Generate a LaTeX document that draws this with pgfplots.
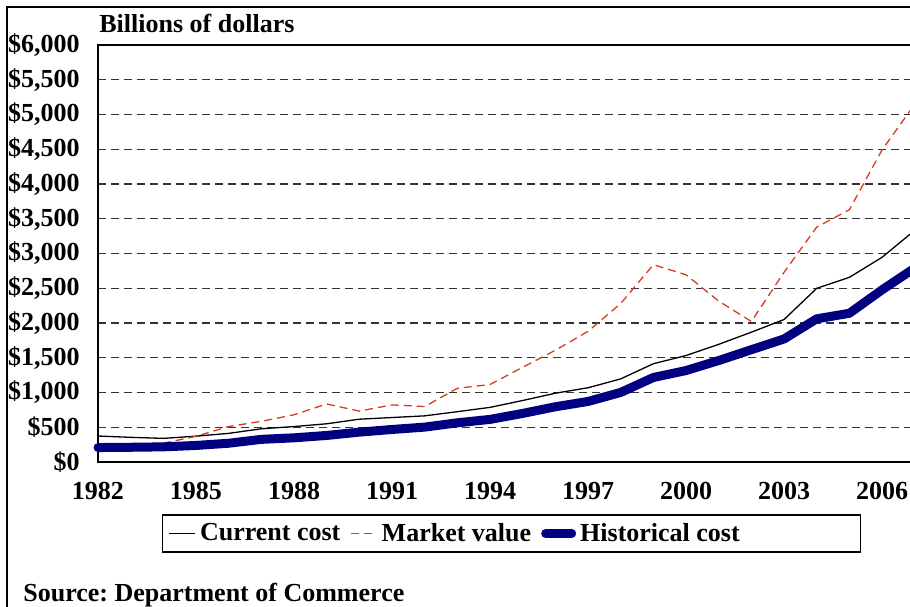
\documentclass[border=0pt]{standalone}
\usepackage{fontspec}
\setmainfont{Liberation Serif}
\usepackage{pgfplots}
\pgfplotsset{compat=1.18}
\definecolor{navyb}{RGB}{0,0,128}
\definecolor{mred}{RGB}{214,60,30}
\newcommand{\lbl}{\fontsize{13}{15}\selectfont\bfseries}
\frenchspacing
\begin{document}
\begin{tikzpicture}
\useasboundingbox (0,0) rectangle (455pt,303pt);
\draw[line width=0.6pt] (3.5pt,-5pt) -- (3.5pt,299.5pt) -- (470pt,299.5pt);
\begin{axis}[
  at={(49pt,72pt)}, anchor=south west,
  scale only axis, width=408.35pt, height=208.5pt,
  xmin=1982, xmax=2007, ymin=0, ymax=6000,
  clip=false,
  axis line style={line width=0.7pt},
  major tick length=0pt,
  tick style={draw=none},
  xtick={1982,1985,...,2006},
  ytick={0,500,...,6000},
  scaled y ticks=false,
  ymajorgrids,
  grid style={black!80, line width=0.55pt, dash pattern=on 4pt off 2.5pt},
  tick label style={font=\lbl, /pgf/number format/assume math mode=true},
  xticklabel style={/pgf/number format/1000 sep={}, anchor=north, inner sep=0pt, yshift=-10pt},
  yticklabel={\$\pgfmathprintnumber[fixed,1000 sep={,}]{\tick}},
  yticklabel style={anchor=east, inner sep=0pt, xshift=-9pt},
  legend columns=3,
  legend style={at={(0.5063,-0.1715)}, anchor=center, draw=black, line width=0.6pt,
    font=\lbl, inner xsep=3pt, inner ysep=2pt,
    /tikz/every even column/.append style={column sep=3pt}},
  legend image code/.code={\draw[#1] (0pt,0pt) -- (13pt,0pt);},
]
\addplot[black, line width=0.65pt] coordinates {
(1982,374) (1983,355) (1984,340) (1985,372) (1986,412) (1987,478) (1988,510)
(1989,550) (1990,616) (1991,640) (1992,664) (1993,724) (1994,786) (1995,885)
(1996,990) (1997,1068) (1998,1196) (1999,1414) (2000,1532) (2001,1693)
(2002,1868) (2003,2050) (2004,2499) (2005,2657) (2006,2945) (2007,3333)};
\addlegendentry{Current cost}
\addplot[mred, line width=0.65pt, dash pattern=on 4pt off 2.5pt] coordinates {
(1982,220) (1983,250) (1984,270) (1985,370) (1986,510) (1987,585) (1988,680)
(1989,835) (1990,732) (1991,822) (1992,798) (1993,1061) (1994,1115) (1995,1363)
(1996,1608) (1997,1880) (1998,2280) (1999,2839) (2000,2694) (2001,2315)
(2002,2022) (2003,2729) (2004,3380) (2005,3630) (2006,4490) (2007,5148)};
\addlegendentry{Market value}
\addplot[navyb, line width=4.5pt, line cap=round, line join=round] coordinates {
(1982,208) (1983,212) (1984,218) (1985,238) (1986,270) (1987,326) (1988,348)
(1989,382) (1990,430) (1991,468) (1992,502) (1993,564) (1994,613) (1995,699)
(1996,795) (1997,871) (1998,1001) (1999,1216) (2000,1316) (2001,1460)
(2002,1616) (2003,1770) (2004,2060) (2005,2140) (2006,2477) (2007,2791)};
\addlegendentry{\makebox[135pt][l]{Historical cost}}
\end{axis}
\node[anchor=base west, inner sep=0pt, font=\lbl] at (49.5pt,286.5pt) {Billions of dollars};
\node[anchor=base west, inner sep=0pt, font=\lbl] at (11.5pt,2.5pt) {Source: Department of Commerce};
\end{tikzpicture}
\end{document}
